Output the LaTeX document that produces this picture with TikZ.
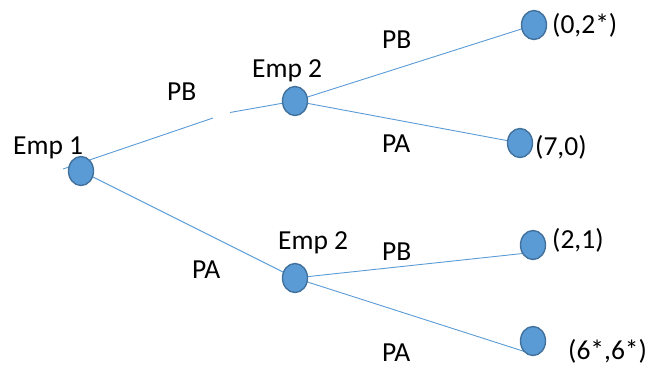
\documentclass[tikz,border=0pt]{standalone}
\usepackage{fontspec}
\setmainfont{Carlito}
\usetikzlibrary{shapes.geometric}
\definecolor{edgeblue}{HTML}{5B9BD5}
\definecolor{nodefill}{HTML}{5B9BD5}
\definecolor{nodeline}{HTML}{41719C}
\tikzset{
  decision/.style={ellipse, draw=nodeline, fill=nodefill, line width=1.4pt,
    inner sep=0pt, minimum width=25pt, minimum height=29pt},
  branch/.style={draw=edgeblue, line width=0.9pt},
  lbl/.style={anchor=base west, inner sep=0pt, font=\fontsize{27.5}{32}\selectfont},
}
\begin{document}
\begin{tikzpicture}[x=1pt, y=-1pt]
\useasboundingbox (0,0) rectangle (651,367);

% player labels
\node[lbl] (t1) at (13,154) {Emp 1};
\node[lbl] (t2) at (252,77) {Emp 2};
\node[lbl] (t3) at (278,249) {Emp 2};

% helper points of the first branch (it starts left of the root and is broken once)
\coordinate (s0) at (63,169);
\coordinate (g1) at (213,118);
\coordinate (g2) at (230,112.5);

% connectors first, so the decision nodes sit on top
\coordinate (p0) at (81,171);
\coordinate (p1) at (295,101);
\coordinate (p2) at (295,278);
\coordinate (p3) at (534,25);
\coordinate (p4) at (520,143);
\coordinate (p5) at (533,245);
\coordinate (p6) at (533,341);

\draw[branch] (s0) -- (g1);
\draw[branch] (g2) -- (p1);
\draw[branch] (p0) -- (p2);
\draw[branch] (p1) -- (p3);
\draw[branch] (p1) -- (p4);
\draw[branch] (p2) -- (532,252.5);
\draw[branch] (p2) -- (526,352);

% decision nodes
\node[decision] (n0) at (p0) {};
\node[decision] (n1) at (p1) {};
\node[decision] (n2) at (p2) {};
\node[decision] (l1) at (p3) {};
\node[decision] (l2) at (p4) {};
\node[decision] (l3) at (p5) {};
\node[decision] (l4) at (p6) {};

% action labels
\node[lbl] (a1) at (167,100) {PB};
\node[lbl] (a2) at (192,278) {PA};
\node[lbl] (a3) at (382,48) {PB};
\node[lbl] (a4) at (382,152) {PA};
\node[lbl] (a5) at (382,260) {PB};
\node[lbl] (a6) at (382,361) {PA};

% payoffs
\node[lbl] (r1) at (552,33) {(0,2*)};
\node[lbl] (r2) at (535,155) {(7,0)};
\node[lbl] (r3) at (552,248) {(2,1)};
\node[lbl] (r4) at (568,359) {(6*,6*)};
\end{tikzpicture}
\end{document}
